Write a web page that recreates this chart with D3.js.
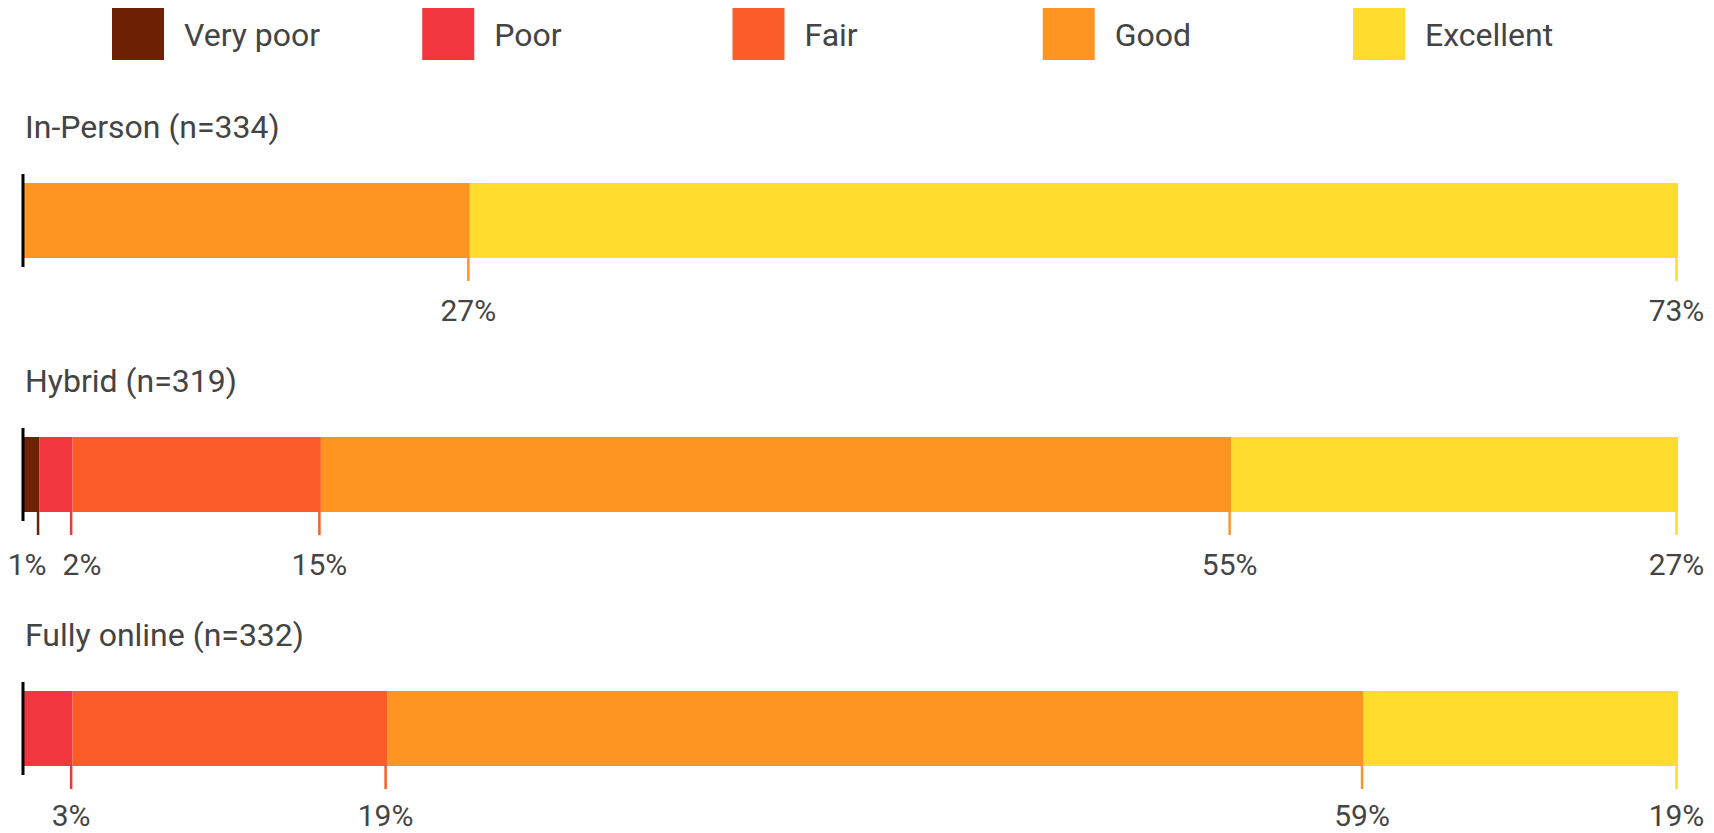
<!DOCTYPE html>
<html lang="en">
<head>
<meta charset="utf-8">
<title>Ratings by format</title>
<script src="https://cdn.jsdelivr.net/npm/d3@7"></script>
<style>
    body { margin: 0; background: #fff; }
    svg text { font-family: Roboto, "Noto Sans", sans-serif; font-size: 30px; fill: #444; }
    svg text.big { font-size: 32px; }
</style>
</head>
<body>
<script>
// data
var categories = ["Very poor", "Poor", "Fair", "Good", "Excellent"];
var groups = ["In-Person (n=334)", "Hybrid (n=319)", "Fully online (n=332)"];
var inPerson = [0, 0, 0, 27, 73];
var hybrid = [1, 2, 15, 55, 27];
var fullyOnline = [0, 3, 19, 59, 19];
var colorList = ["#6e2104", "#f2363f", "#fc5d28", "#fe9523", "#ffdc2d"];

var width = 1714, height = 833;
var barH = 75;

var svg = d3.select("body").append("svg")
    .attr("width", width).attr("height", height);

var rows = [inPerson, hybrid, fullyOnline].map(function(vals, i) {
    var r = { group: groups[i] };
    categories.forEach(function(c, j) { r[c] = vals[j]; });
    return r;
});

var stacked = d3.stack().keys(categories)(rows);

var x = d3.scaleLinear().domain([0, 100]).range([23, 1678]);
var y = d3.scalePoint().domain(groups).range([183, 691]);
var color = d3.scaleOrdinal().domain(categories).range(colorList);
var legendX = d3.scalePoint().domain(categories).range([112, 1353]);

// legend
var legend = svg.append("g").selectAll("g")
    .data(categories).enter().append("g")
    .attr("transform", function(d) { return "translate(" + legendX(d) + ",8)"; });
legend.append("rect")
    .attr("width", 52).attr("height", 52)
    .attr("fill", function(d) { return color(d); });
legend.append("text")
    .attr("class", "big")
    .attr("x", 72).attr("y", 38)
    .text(function(d) { return d; });

// group titles
svg.selectAll("text.title").data(groups).enter().append("text")
    .attr("class", "title big")
    .attr("x", 25)
    .attr("y", function(d) { return y(d) - 45; })
    .text(function(d) { return d; });

// segments
stacked.forEach(function(layer) {
    svg.append("g").selectAll("rect")
        .data(layer.filter(function(s) { return s[1] - s[0] > 0; }))
        .enter().append("rect")
        .attr("x", function(s) { return x(s[0]); })
        .attr("width", function(s) { return x(s[1]) - x(s[0]); })
        .attr("y", function(s) { return y(s.data.group); })
        .attr("height", barH)
        .attr("fill", color(layer.key));
});

// ticks + labels per group
groups.forEach(function(g, gi) {
    var items = [];
    stacked.forEach(function(layer) {
        var s = layer[gi];
        var v = s[1] - s[0];
        if (v > 0) items.push({ key: layer.key, v: v, end: s[1] });
    });
    var top = y(g);

    svg.append("g").selectAll("line")
        .data(items).enter().append("line")
        .attr("x1", function(d) { return x(d.end) - 1.5; })
        .attr("x2", function(d) { return x(d.end) - 1.5; })
        .attr("y1", top + barH)
        .attr("y2", top + barH + 23)
        .attr("stroke", function(d) { return color(d.key); })
        .attr("stroke-width", 2.5);

    var labels = svg.append("g").selectAll("text")
        .data(items).enter().append("text")
        .attr("text-anchor", "middle")
        .attr("y", Math.min(top + barH + 63, height - 7))
        .text(function(d) { return d.v + "%"; });

    // push overlapping labels apart
    labels.each(function(d) { d.w = this.getComputedTextLength(); d.cx = x(d.end) - 1.5; });
    var gap = 16;
    for (var k = 0; k < 20; k++) {
        for (var i = 1; i < items.length; i++) {
            var a = items[i - 1], b = items[i];
            var need = (a.w + b.w) / 2 + gap;
            var diff = b.cx - a.cx;
            if (diff < need) {
                var shift = (need - diff) / 2;
                a.cx -= shift; b.cx += shift;
            }
        }
    }
    labels.attr("x", function(d) { return d.cx; });

    // left axis line
    svg.append("line")
        .attr("x1", 23).attr("x2", 23)
        .attr("y1", top - 9).attr("y2", top + barH + 9)
        .attr("stroke", "#000").attr("stroke-width", 3);
});
</script>
</body>
</html>
